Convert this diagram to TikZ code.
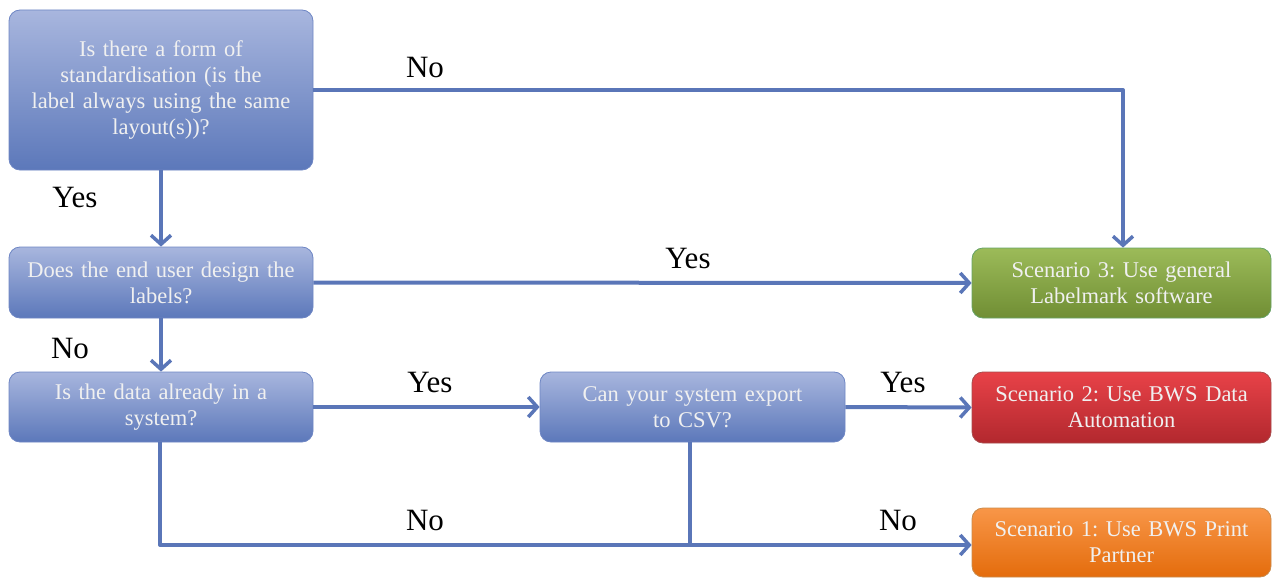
\documentclass[tikz,border=0pt]{standalone}
\usepackage{fontspec}
\setmainfont{Liberation Serif}
\usetikzlibrary{arrows.meta}
\definecolor{flowline}{RGB}{90,118,184}
\definecolor{qtop}{RGB}{168,182,222}
\definecolor{qbot}{RGB}{92,120,186}
\definecolor{qedge}{RGB}{110,134,196}
\frenchspacing
\begin{document}
\begin{tikzpicture}[x=1pt, y=-1pt, line join=round,
  box/.style={rectangle, rounded corners=11pt, draw=qedge, line width=0.8pt,
    text=white!94!black, align=center, inner sep=2pt,
    font=\rmfamily\fontsize{22.5}{26}\selectfont},
  qbox/.style={box, top color=qtop, bottom color=qbot},
  lbl/.style={font=\rmfamily\fontsize{31}{34}\selectfont},
  link/.style={draw=flowline, line width=4pt},
  tip/.style={-{Straight Barb[length=9pt,width=20pt,line width=3.5pt]}}]
\useasboundingbox (0,0) rectangle (1274,578);
% questions
\node[qbox, minimum width=304pt, minimum height=160pt, text width=290pt] (Q1) at (161,90)
  {Is there a form of\\standardisation (is the\\label always using the same\\layout(s))?};
\node[qbox, minimum width=304pt, minimum height=71pt, text width=290pt] (Q2) at (161,282.5)
  {Does the end user design the\\labels?};
\node[qbox, minimum width=304pt, minimum height=70pt, text width=290pt] (Q3) at (161,407)
  {Is the data already in a\\system?};
\node[qbox, minimum width=305pt, minimum height=70pt, text width=290pt] (Q4) at (692.5,407)
  {Can your system export\\to CSV?};
% scenarios
\node[box, draw=green!40!black!60, top color={rgb,255:red,156;green,187;blue,89}, bottom color={rgb,255:red,112;green,142;blue,52},
  minimum width=299pt, minimum height=70pt, text width=285pt] (S3) at (1121.5,283)
  {Scenario 3: Use general\\Labelmark software};
\node[box, draw=red!50!black!70, top color={rgb,255:red,232;green,66;blue,72}, bottom color={rgb,255:red,178;green,40;blue,46},
  minimum width=299pt, minimum height=71pt, text width=285pt] (S2) at (1121.5,407.5)
  {Scenario 2: Use BWS Data\\Automation};
\node[box, draw=orange!70!black!70, top color={rgb,255:red,248;green,150;blue,72}, bottom color={rgb,255:red,228;green,108;blue,12},
  minimum width=299pt, minimum height=69pt, text width=285pt] (S1) at (1121.5,542.5)
  {Scenario 1: Use BWS Print\\Partner};
% connectors
\coordinate (top) at (1123,90);
\coordinate (low) at (160,545);
\coordinate (join) at (690,545);
\draw[link, tip] (Q1.south) -- (Q2.north);
\draw[link, tip] (Q2.south) -- (Q3.north);
\draw[link, tip] (Q1.east |- top) -- (top) -- (S3.north -| top);
\draw[link, tip] (Q2.east) -- (S3.west);
\draw[link, tip] (Q3.east) -- (Q4.west);
\draw[link, tip] (Q4.east) -- (S2.east -| S2.west);
\draw[link, tip] (Q3.south -| low) -- (low) -- (S1.west |- low);
\draw[link] (Q4.south -| join) -- (join);
% answers
\foreach \p/\t in {{425,68}/No, {75,198}/Yes, {688,258}/Yes, {70,348}/No,
  {430,382}/Yes, {903,382}/Yes, {425,520}/No, {898,520}/No}{
\node[lbl] at (\p) {\t};}
\end{tikzpicture}
\end{document}
